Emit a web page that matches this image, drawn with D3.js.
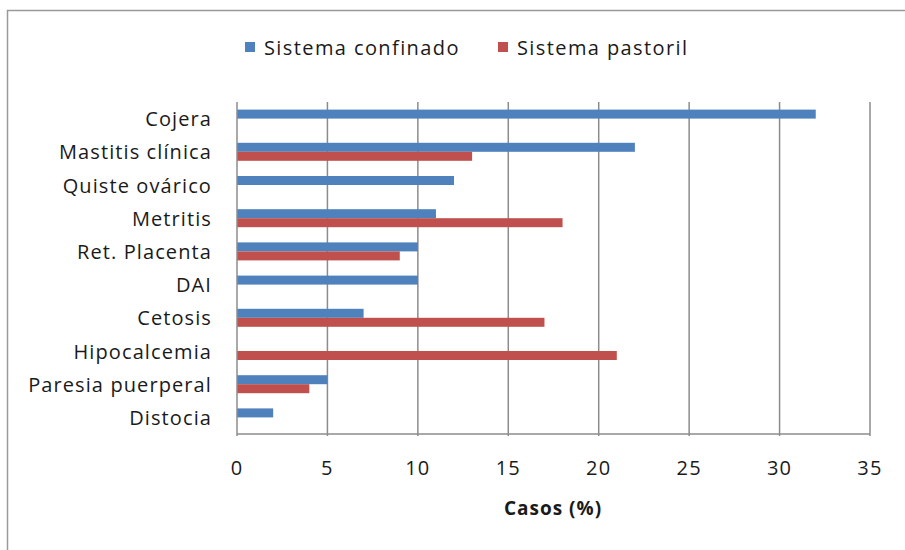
<!DOCTYPE html>
<html>
<head>
<meta charset="utf-8">
<script src="https://cdn.jsdelivr.net/npm/d3@7"></script>
<style>
  html, body { margin: 0; padding: 0; background: #fff; }
  svg text { font-family: "Open Sans", "Noto Sans", sans-serif; fill: #1a1a1a; }
</style>
</head>
<body>
<svg id="chart" width="905" height="550"></svg>
<script>
// Disease categories, top to bottom
const categories = ["Cojera", "Mastitis clínica", "Quiste ovárico", "Metritis", "Ret. Placenta",
                    "DAI", "Cetosis", "Hipocalcemia", "Paresia puerperal", "Distocia"];
// Percentage of cases per production system
const confinado = [32, 22, 12, 11, 10, 10, 7, 0, 5, 2];
const pastoril  = [0, 13, 0, 18, 9, 0, 17, 21, 4, 0];
const seriesNames = ["Sistema confinado", "Sistema pastoril"];
const xTicks = [0, 5, 10, 15, 20, 25, 30, 35];
const xTitle = "Casos (%)";

const colors = ["#4F81BD", "#C0504D"];
const gridColor = "#8c8c8c";

const svg = d3.select("#chart");

// Outer frame (top and left edges)
svg.append("path")
  .attr("d", "M7.5,550 V10.5 H905")
  .attr("fill", "none").attr("stroke", "#9a9a9a").attr("stroke-width", 1.5);

const plot = { left: 237, right: 870, top: 102, bottom: 434 };

const x = d3.scaleLinear().domain([0, 35]).range([plot.left, plot.right]);
const y = d3.scaleBand().domain(categories).range([plot.top, plot.bottom]);
const barH = 9;

// Vertical gridlines
svg.append("g").selectAll("line").data(xTicks.slice(1)).join("line")
  .attr("x1", d => x(d)).attr("x2", d => x(d))
  .attr("y1", plot.top).attr("y2", plot.bottom + 2)
  .attr("stroke", gridColor).attr("stroke-width", 1.5);

// Bars
const rows = categories.map((c, i) => ({ c, vals: [confinado[i], pastoril[i]] }));
rows.forEach(r => {
  r.vals.forEach((v, s) => {
    if (v <= 0) return;
    const cy = y(r.c) + y.bandwidth() / 2;
    svg.append("rect")
      .attr("x", x(0))
      .attr("y", cy - barH + s * barH)
      .attr("width", x(v) - x(0))
      .attr("height", barH)
      .attr("fill", colors[s]);
  });
});

// Left axis line and bottom axis line
svg.append("line")
  .attr("x1", x(0)).attr("x2", x(0)).attr("y1", plot.top).attr("y2", plot.bottom + 2)
  .attr("stroke", gridColor).attr("stroke-width", 1.5);
svg.append("line")
  .attr("x1", x(0)).attr("x2", x(35)).attr("y1", plot.bottom).attr("y2", plot.bottom)
  .attr("stroke", gridColor).attr("stroke-width", 1.5);

// Category labels
svg.append("g").selectAll("text").data(categories).join("text")
  .attr("x", 212)
  .attr("y", d => y(d) + y.bandwidth() / 2)
  .attr("text-anchor", "end")
  .attr("dominant-baseline", "central")
  .attr("font-size", 20)
  .attr("letter-spacing", 1.1)
  .text(d => d);

// X tick labels
svg.append("g").selectAll("text").data(xTicks).join("text")
  .attr("x", d => x(d))
  .attr("y", 467)
  .attr("text-anchor", "middle")
  .attr("dominant-baseline", "central")
  .attr("font-size", 20)
  .attr("letter-spacing", 1.2)
  .text(d => d);

// Axis title
svg.append("text")
  .attr("x", 553).attr("y", 508)
  .attr("text-anchor", "middle")
  .attr("dominant-baseline", "central")
  .attr("font-size", 19).attr("font-weight", "bold")
  .attr("letter-spacing", 1)
  .text(xTitle);

// Legend
const legendX = [245, 498];
seriesNames.forEach((n, i) => {
  svg.append("rect")
    .attr("x", legendX[i]).attr("y", 42).attr("width", 10).attr("height", 10)
    .attr("fill", colors[i]);
  svg.append("text")
    .attr("x", legendX[i] + 19).attr("y", 47)
    .attr("dominant-baseline", "central")
    .attr("font-size", 20)
    .attr("letter-spacing", 1.4)
    .text(n);
});
</script>
</body>
</html>
